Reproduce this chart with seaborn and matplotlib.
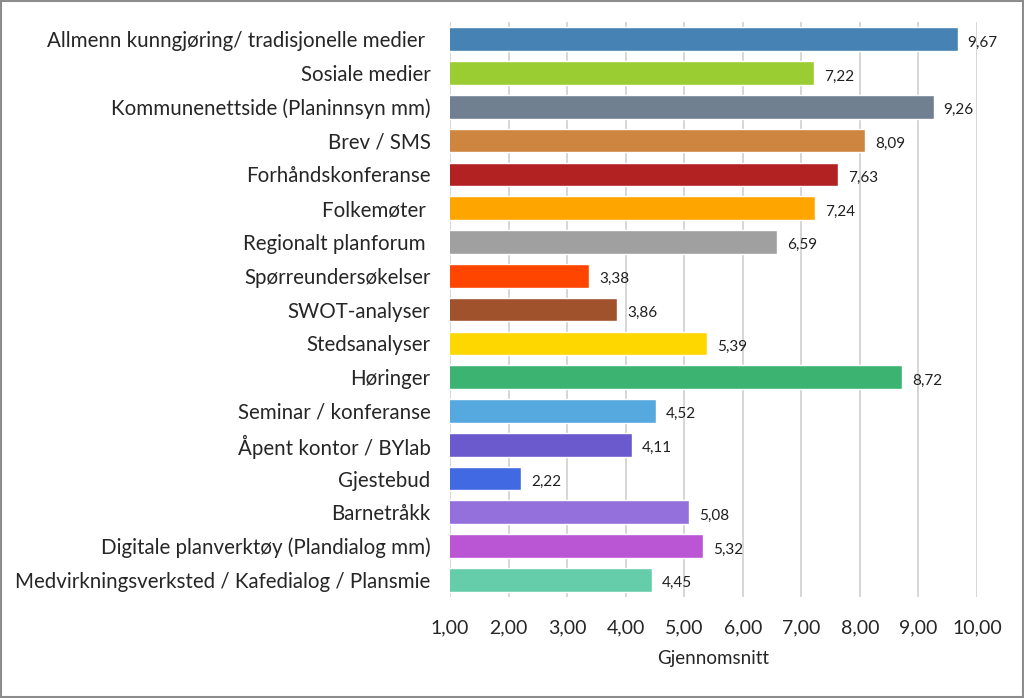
import matplotlib
matplotlib.use("Agg")
import matplotlib.pyplot as plt
import seaborn as sns
import pandas as pd

# Data
categories = [
    "Allmenn kunngjøring/ tradisjonelle medier ",
    "Sosiale medier",
    "Kommunenettside (Planinnsyn mm)",
    "Brev / SMS",
    "Forhåndskonferanse",
    "Folkemøter ",
    "Regionalt planforum ",
    "Spørreundersøkelser",
    "SWOT-analyser",
    "Stedsanalyser",
    "Høringer",
    "Seminar / konferanse",
    "Åpent kontor / BYlab",
    "Gjestebud",
    "Barnetråkk",
    "Digitale planverktøy (Plandialog mm)",
    "Medvirkningsverksted / Kafedialog / Plansmie",
]
values = [9.67, 7.22, 9.26, 8.09, 7.63, 7.24, 6.59, 3.38, 3.86, 5.39,
          8.72, 4.52, 4.11, 2.22, 5.08, 5.32, 4.45]
colors = ["#4682B4", "#9ACD32", "#708090", "#CD853F", "#B22222", "#FFA500",
          "#A0A0A0", "#FF4500", "#A0522D", "#FFD700", "#3CB371", "#56A9DE",
          "#6A5ACD", "#4169E1", "#9370DB", "#BA55D3", "#66CDAA"]
x_ticks = [1, 2, 3, 4, 5, 6, 7, 8, 9, 10]

df = pd.DataFrame({"kategori": categories, "snitt": values})

sns.set_theme(style="white")
plt.rcParams["font.family"] = ["Lato", "DejaVu Sans"]

fig = plt.figure(figsize=(10.24, 6.98), dpi=100)
ax = fig.add_axes([0.4395, 0.145, 0.5145, 0.823])

sns.barplot(data=df, y="kategori", x="snitt", hue="kategori", palette=colors,
            legend=False, width=0.7, saturation=1, ax=ax, orient="h", zorder=3)

ax.set_xlim(1, 10)
ax.set_xticks(x_ticks)
ax.set_xticklabels([f"{t:.2f}".replace(".", ",") for t in x_ticks], fontsize=14)
ax.tick_params(axis="x", length=0, pad=16)
ax.tick_params(axis="y", length=0, pad=14, labelsize=14.8)
ax.set_ylabel("")
ax.set_xlabel("Gjennomsnitt", fontsize=13.5, labelpad=10)
ax.grid(axis="x", color="#D0D0D0", linewidth=1.2, zorder=0)
ax.set_axisbelow(True)
for s in ax.spines.values():
    s.set_visible(False)

for i, v in enumerate(values):
    ax.text(v + 0.17, i + 0.1, f"{v:.2f}".replace(".", ","), va="center",
            ha="left", fontsize=11, color="#202020")

# grey frame around the whole figure
fig.patches.append(plt.Rectangle((0.001, 0.001), 0.998, 0.997, transform=fig.transFigure,
                                 fill=False, edgecolor="#8C8C8C", linewidth=1.5))

fig.savefig("out.png", dpi=100)
